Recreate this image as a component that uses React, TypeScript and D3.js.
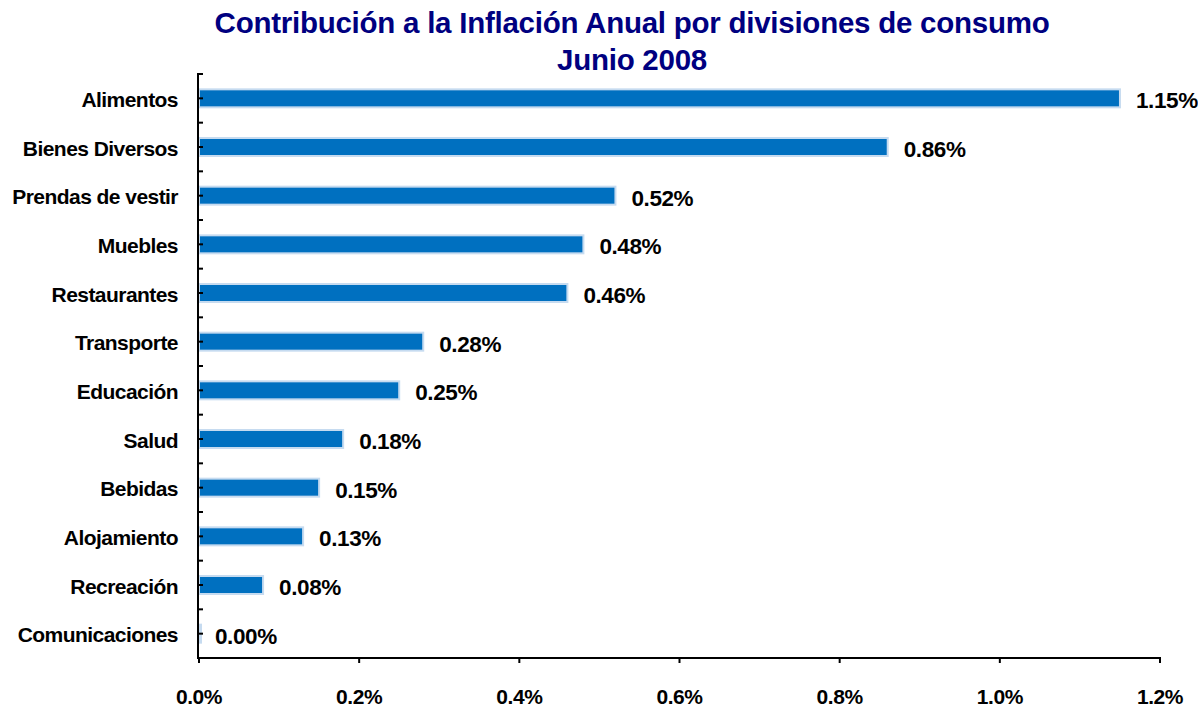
import React from 'react';
import * as d3 from 'd3';

// Data (% contribution, June 2008)
const categories = [
  'Alimentos',
  'Bienes Diversos',
  'Prendas de vestir',
  'Muebles',
  'Restaurantes',
  'Transporte',
  'Educación',
  'Salud',
  'Bebidas',
  'Alojamiento',
  'Recreación',
  'Comunicaciones',
];
const values = [1.15, 0.86, 0.52, 0.48, 0.46, 0.28, 0.25, 0.18, 0.15, 0.13, 0.08, 0.0];
const xTicks = [0, 0.2, 0.4, 0.6, 0.8, 1.0, 1.2];
const titleLines = ['Contribución a la Inflación Anual por divisiones de consumo', 'Junio 2008'];

const W = 1198;
const H = 708;
const margin = { top: 74, right: 38, bottom: 50, left: 199 };
const FONT = '"Liberation Sans", Arial, sans-serif';

const App = () => {
  const innerW = W - margin.left - margin.right;
  const innerH = H - margin.top - margin.bottom;

  const x = d3.scaleLinear().domain([0, 1.2]).range([0, innerW]);
  const y = d3.scaleBand().domain(categories).range([0, innerH]).paddingInner(0).paddingOuter(0);
  const barH = 18;

  // minor ticks on the category axis: band edges and band centres
  const yTickScale = d3.scaleLinear().domain([0, categories.length]).range([0, innerH]);
  const yTicks = d3.range(0, categories.length + 0.01, 0.5);

  return (
    <svg
      width={W}
      height={H}
      style={{ position: 'absolute', left: 0, top: 0, background: '#fff' }}
      fontFamily={FONT}
    >
      {/* Title */}
      {titleLines.map((t, i) => (
        <text
          key={t}
          x={632}
          y={33 + i * 37}
          textAnchor="middle"
          fontSize={29.5}
          fontWeight="bold"
          letterSpacing={-0.25}
          fill="#000080"
        >
          {t}
        </text>
      ))}

      <g transform={`translate(${margin.left}, ${margin.top})`}>
        {/* Bars */}
        {categories.map((c, i) => {
          const cy = (y(c) as number) + y.bandwidth() / 2;
          return (
            <g key={c}>
              <rect
                x={x(0)}
                y={cy - barH / 2}
                width={Math.max(x(values[i]) - x(0), 2)}
                height={barH}
                fill="#0070C0"
                stroke="#C6DBF0"
                strokeWidth={2}
              />
              <text
                x={x(values[i]) + 16}
                y={cy + 10}
                fontSize={22.5}
                fontWeight="bold"
                letterSpacing={-0.4}
                fill="#000"
              >
                {values[i].toFixed(2) + '%'}
              </text>
              <text
                x={-21}
                y={cy + 8.5}
                textAnchor="end"
                fontSize={21}
                fontWeight="bold"
                letterSpacing={-0.55}
                fill="#000"
              >
                {c}
              </text>
            </g>
          );
        })}

        {/* Y axis */}
        <line x1={-1} x2={-1} y1={-1} y2={innerH} stroke="#000" strokeWidth={2} />
        {yTicks.map((t) => (
          <line key={t} x1={-1} x2={4} y1={yTickScale(t)} y2={yTickScale(t)} stroke="#000" strokeWidth={2} />
        ))}

        {/* X axis */}
        <line x1={-2} x2={innerW + 1} y1={innerH} y2={innerH} stroke="#000" strokeWidth={2} />
        {xTicks.map((t) => (
          <g key={t} transform={`translate(${x(t)}, ${innerH})`}>
            <line y1={0} y2={5} stroke="#000" strokeWidth={2} />
            <text y={46} textAnchor="middle" fontSize={21} fontWeight="bold" letterSpacing={-0.4} fill="#000">
              {d3.format('.1f')(t) + '%'}
            </text>
          </g>
        ))}
      </g>
    </svg>
  );
};

export default App;
